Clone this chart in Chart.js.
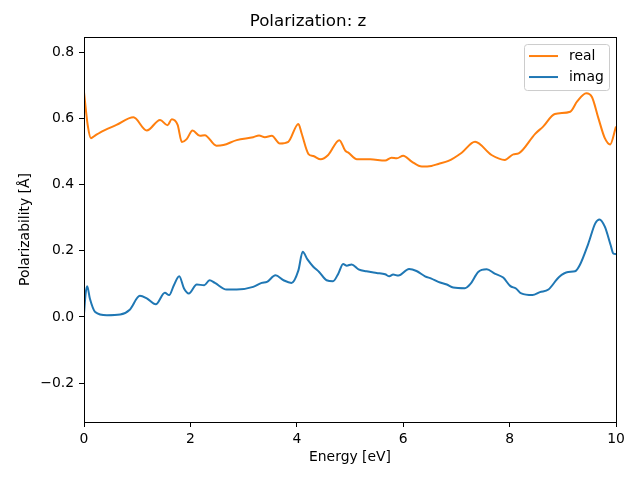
<!DOCTYPE html>
<html>
<head>
<meta charset="utf-8">
<script src="https://cdn.jsdelivr.net/npm/chart.js@4/dist/chart.umd.min.js"></script>
<style>
  html, body { margin: 0; padding: 0; background: #fff; }
  #wrap { width: 640px; height: 480px; }
</style>
</head>
<body>
<div id="wrap"><canvas id="chart" width="640" height="480"></canvas></div>
<script>
// values
const realEnergy = [0.00, 0.07, 0.13, 0.20, 0.30, 0.61, 0.93, 1.18, 1.43, 1.57, 1.65, 1.76, 1.84, 1.93, 2.04, 2.18, 2.27, 2.49, 2.62, 2.87, 3.18, 3.29, 3.40, 3.53, 3.68, 3.84, 4.03, 4.09, 4.22, 4.31, 4.45, 4.59, 4.80, 4.91, 4.97, 5.13, 5.38, 5.66, 5.78, 5.88, 6.00, 6.16, 6.35, 6.53, 6.66, 6.85, 7.10, 7.35, 7.66, 7.91, 8.07, 8.17, 8.48, 8.63, 8.85, 9.14, 9.27, 9.44, 9.55, 9.67, 9.79, 9.89, 10.0];
const realValues = [0.680, 0.580, 0.541, 0.548, 0.558, 0.581, 0.604, 0.564, 0.596, 0.580, 0.598, 0.581, 0.529, 0.538, 0.564, 0.548, 0.550, 0.518, 0.520, 0.535, 0.544, 0.549, 0.544, 0.548, 0.525, 0.530, 0.584, 0.556, 0.493, 0.487, 0.477, 0.490, 0.535, 0.503, 0.497, 0.477, 0.477, 0.473, 0.482, 0.480, 0.488, 0.470, 0.455, 0.457, 0.463, 0.472, 0.497, 0.530, 0.490, 0.475, 0.492, 0.495, 0.554, 0.576, 0.614, 0.621, 0.652, 0.677, 0.665, 0.601, 0.541, 0.522, 0.576];

const imagEnergy = [0.00, 0.03, 0.06, 0.11, 0.21, 0.43, 0.68, 0.86, 1.05, 1.18, 1.35, 1.52, 1.60, 1.69, 1.79, 1.88, 1.97, 2.12, 2.26, 2.36, 2.46, 2.68, 2.87, 3.18, 3.34, 3.44, 3.60, 3.75, 3.90, 4.03, 4.11, 4.20, 4.31, 4.42, 4.56, 4.68, 4.78, 4.87, 4.94, 5.03, 5.16, 5.31, 5.50, 5.66, 5.74, 5.81, 5.91, 6.11, 6.25, 6.41, 6.53, 6.66, 6.82, 6.94, 7.16, 7.26, 7.41, 7.57, 7.72, 7.88, 8.01, 8.12, 8.22, 8.43, 8.57, 8.73, 8.93, 9.10, 9.23, 9.32, 9.48, 9.61, 9.69, 9.79, 9.90, 9.95, 10.0];
const imagValues = [0.010, 0.070, 0.093, 0.056, 0.015, 0.005, 0.007, 0.022, 0.064, 0.056, 0.038, 0.073, 0.066, 0.096, 0.123, 0.086, 0.071, 0.098, 0.096, 0.111, 0.103, 0.083, 0.083, 0.091, 0.103, 0.106, 0.126, 0.111, 0.103, 0.141, 0.197, 0.174, 0.152, 0.136, 0.111, 0.108, 0.131, 0.160, 0.155, 0.159, 0.144, 0.138, 0.133, 0.129, 0.123, 0.128, 0.125, 0.145, 0.139, 0.123, 0.116, 0.106, 0.098, 0.089, 0.087, 0.099, 0.136, 0.144, 0.131, 0.119, 0.094, 0.086, 0.071, 0.066, 0.075, 0.083, 0.121, 0.136, 0.138, 0.157, 0.222, 0.283, 0.295, 0.273, 0.217, 0.192, 0.190];

const xTicks = [0, 2, 4, 6, 8, 10];
const yTicks = [-0.2, 0.0, 0.2, 0.4, 0.6, 0.8];
const yTickLabels = ['\u22120.2', '0.0', '0.2', '0.4', '0.6', '0.8'];

const ORANGE = '#ff7f0e';
const BLUE = '#1f77b4';
const FONT = 'DejaVu Sans';

const toPoints = (xs, ys) => xs.map((x, i) => ({ x: x, y: ys[i] }));

// full box around the plot, like matplotlib spines
const framePlugin = {
  id: 'frame',
  afterDraw(chart) {
    const { ctx, chartArea: a } = chart;
    ctx.save();
    ctx.strokeStyle = '#000';
    ctx.lineWidth = 1;
    ctx.strokeRect(Math.round(a.left) + 0.5, Math.round(a.top) + 0.5,
      Math.round(a.right - a.left), Math.round(a.bottom - a.top));
    ctx.restore();
  }
};

// legend box in the upper right corner of the plot
const legendPlugin = {
  id: 'boxLegend',
  afterDraw(chart) {
    const { ctx, chartArea: a } = chart;
    const entries = [['real', ORANGE], ['imag', BLUE]];
    const w = 85, h = 46;
    const x0 = a.right - 7 - w, y0 = a.top + 7;
    ctx.save();
    ctx.beginPath();
    ctx.roundRect(x0 + 0.5, y0 + 0.5, w, h, 3);
    ctx.fillStyle = 'rgba(255,255,255,0.8)';
    ctx.fill();
    ctx.strokeStyle = '#cccccc';
    ctx.lineWidth = 1;
    ctx.stroke();
    ctx.font = '13.9px "' + FONT + '"';
    ctx.textBaseline = 'middle';
    entries.forEach((e, i) => {
      const y = y0 + 12 + i * 21;
      ctx.beginPath();
      ctx.moveTo(x0 + 5, y);
      ctx.lineTo(x0 + 34, y);
      ctx.strokeStyle = e[1];
      ctx.lineWidth = 2;
      ctx.stroke();
      ctx.fillStyle = '#000';
      ctx.fillText(e[0], x0 + 45, y);
    });
    ctx.restore();
  }
};

new Chart(document.getElementById('chart'), {
  type: 'line',
  data: {
    datasets: [
      {
        label: 'imag',
        data: toPoints(imagEnergy, imagValues),
        borderColor: BLUE,
        borderWidth: 2,
        pointRadius: 0,
        cubicInterpolationMode: 'monotone',
        fill: false
      },
      {
        label: 'real',
        data: toPoints(realEnergy, realValues),
        borderColor: ORANGE,
        borderWidth: 2,
        pointRadius: 0,
        cubicInterpolationMode: 'monotone',
        fill: false
      }
    ]
  },
  options: {
    responsive: false,
    animation: false,
    devicePixelRatio: 1,
    layout: { padding: { left: 0, right: 24, top: 0, bottom: 0 } },
    plugins: {
      legend: { display: false },
      tooltip: { enabled: false },
      title: {
        display: true,
        text: 'Polarization: z',
        color: '#000',
        font: { family: FONT, size: 16.7, weight: 'normal', lineHeight: 1.2 },
        padding: { top: 12, bottom: 5 }
      }
    },
    scales: {
      x: {
        type: 'linear',
        min: 0,
        max: 10,
        afterBuildTicks: s => { s.ticks = xTicks.map(v => ({ value: v })); },
        afterFit: s => { s.height = 58; },
        ticks: {
          color: '#000',
          padding: 4,
          maxRotation: 0,
          font: { family: FONT, size: 13.9 },
          callback: v => String(v)
        },
        grid: { drawOnChartArea: false, drawTicks: true, tickLength: 5, color: '#000' },
        border: { display: true, color: '#000', width: 1 },
        title: {
          display: true,
          text: 'Energy [eV]',
          color: '#000',
          font: { family: FONT, size: 13.9 },
          padding: { top: 0, bottom: 14 }
        }
      },
      y: {
        type: 'linear',
        min: -0.318,
        max: 0.847,
        afterBuildTicks: s => { s.ticks = yTicks.map(v => ({ value: v })); },
        afterFit: s => { s.width = 84; },
        ticks: {
          color: '#000',
          padding: 5,
          font: { family: FONT, size: 13.9 },
          callback: v => yTickLabels[yTicks.findIndex(t => Math.abs(t - v) < 1e-9)]
        },
        grid: { drawOnChartArea: false, drawTicks: true, tickLength: 5, color: '#000' },
        border: { display: true, color: '#000', width: 1 },
        title: {
          display: true,
          text: 'Polarizability [Å]',
          color: '#000',
          font: { family: FONT, size: 13.9 },
          padding: { top: 17, bottom: 0 }
        }
      }
    }
  },
  plugins: [framePlugin, legendPlugin]
});
</script>
</body>
</html>
